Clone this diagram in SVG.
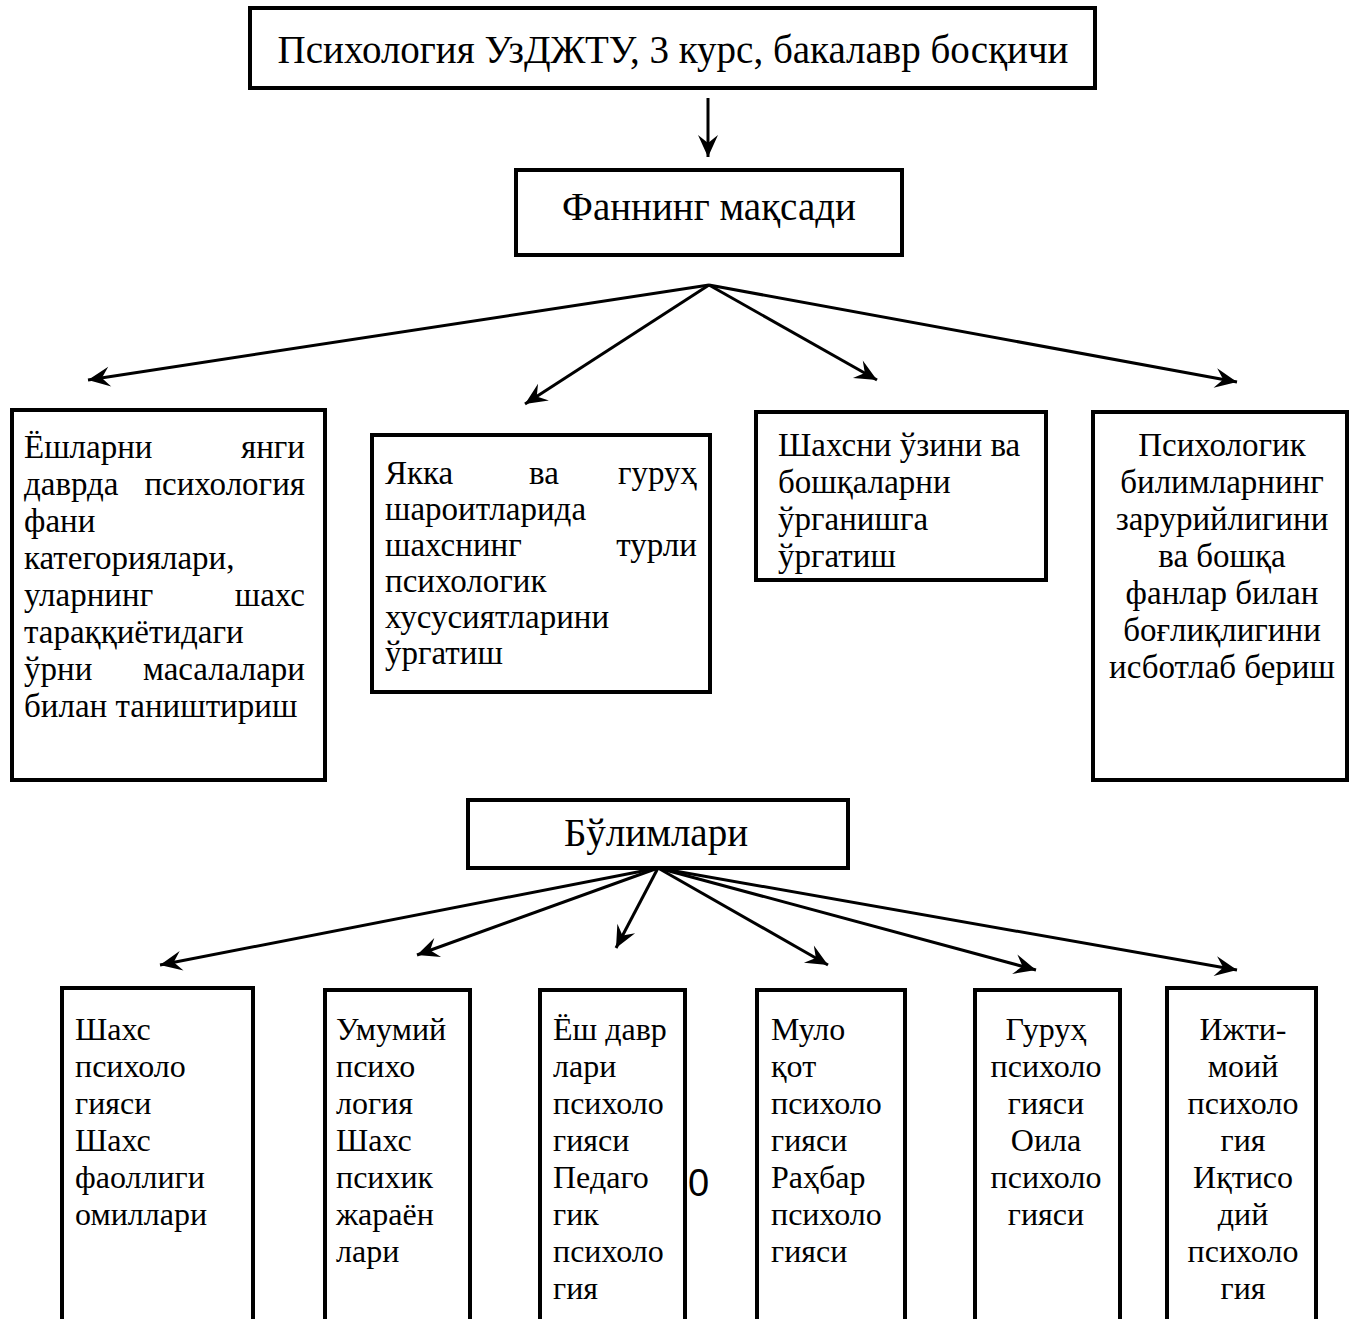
<svg xmlns="http://www.w3.org/2000/svg" width="1349" height="1319" viewBox="0 0 1349 1319">
<style>
.box{fill:#fff;stroke:#000;stroke-width:4}
.t{font-family:"Liberation Serif","Times New Roman",serif;font-size:33px;fill:#000}
.s{font-size:32px}
.tb{font-family:"Liberation Serif","Times New Roman",serif;font-size:39px;fill:#000}
.c{text-anchor:middle}
.e{text-anchor:end}
.ln{stroke:#000;stroke-width:3;fill:none;marker-end:url(#ah)}
</style>
<defs>
<marker id="ah" markerUnits="userSpaceOnUse" viewBox="-24 -11 26 22" refX="0" refY="0" markerWidth="26" markerHeight="22" orient="auto">
<path d="M0,0 L-22,-10 L-14,0 L-22,10 Z" fill="#000"/>
</marker>
</defs>
<rect width="1349" height="1319" fill="#fff"/>
<g id="connectors">
<line class="ln" x1="708" y1="98" x2="708" y2="157"/>
<line class="ln" x1="709" y1="285" x2="88" y2="380"/>
<line class="ln" x1="709" y1="285" x2="525" y2="404"/>
<line class="ln" x1="709" y1="285" x2="877" y2="380"/>
<line class="ln" x1="709" y1="285" x2="1237" y2="382"/>
<line class="ln" x1="658" y1="868" x2="160" y2="965"/>
<line class="ln" x1="658" y1="868" x2="417" y2="955"/>
<line class="ln" x1="658" y1="868" x2="616" y2="948"/>
<line class="ln" x1="658" y1="868" x2="828" y2="965"/>
<line class="ln" x1="658" y1="868" x2="1036" y2="970"/>
<line class="ln" x1="658" y1="868" x2="1237" y2="970"/>
</g>
<g id="top">
<rect class="box" x="250" y="8" width="845" height="80"/>
<text class="tb c" x="673" y="63">Психология УзДЖТУ, 3 курс, бакалавр босқичи</text>
</g>
<g id="maqsad">
<rect class="box" x="516" y="170" width="386" height="85"/>
<text class="tb c" x="709" y="220">Фаннинг мақсади</text>
</g>
<g id="goal1">
<rect class="box" x="12" y="410" width="313" height="370"/>
<text class="t" x="24" y="458">Ёшларни</text><text class="t e" x="305" y="458">янги</text>
<text class="t" x="24" y="495">даврда</text><text class="t e" x="305" y="495">психология</text>
<text class="t" x="24" y="532">фани</text>
<text class="t" x="24" y="569">категориялари,</text>
<text class="t" x="24" y="606">уларнинг</text><text class="t e" x="305" y="606">шахс</text>
<text class="t" x="24" y="643">тараққиётидаги</text>
<text class="t" x="24" y="680">ўрни</text><text class="t e" x="305" y="680">масалалари</text>
<text class="t" x="24" y="717">билан таништириш</text>
</g>
<g id="goal2">
<rect class="box" x="372" y="435" width="338" height="257"/>
<text class="t" x="385" y="484">Якка</text><text class="t c" x="544" y="484">ва</text><text class="t e" x="697" y="484">гуруҳ</text>
<text class="t" x="385" y="520">шароитларида</text>
<text class="t" x="385" y="556">шахснинг</text><text class="t e" x="697" y="556">турли</text>
<text class="t" x="385" y="592">психологик</text>
<text class="t" x="385" y="628">хусусиятларини</text>
<text class="t" x="385" y="664">ўргатиш</text>
</g>
<g id="goal3">
<rect class="box" x="756" y="412" width="290" height="168"/>
<text class="t" x="778" y="456">Шахсни ўзини ва</text>
<text class="t" x="778" y="493">бошқаларни</text>
<text class="t" x="778" y="530">ўрганишга</text>
<text class="t" x="778" y="567">ўргатиш</text>
</g>
<g id="goal4">
<rect class="box" x="1093" y="412" width="254" height="368"/>
<text class="t c" x="1222" y="456">Психологик</text>
<text class="t c" x="1222" y="493">билимларнинг</text>
<text class="t c" x="1222" y="530">зарурийлигини</text>
<text class="t c" x="1222" y="567">ва бошқа</text>
<text class="t c" x="1222" y="604">фанлар билан</text>
<text class="t c" x="1222" y="641">боғлиқлигини</text>
<text class="t c" x="1222" y="678">исботлаб бериш</text>
</g>
<g id="bulimlari">
<rect class="box" x="468" y="800" width="380" height="68"/>
<text class="tb c" x="656" y="846">Бўлимлари</text>
</g>
<g id="b1">
<rect class="box" x="62" y="988" width="191" height="340"/>
<text class="t s" x="75" y="1040">Шахс</text>
<text class="t s" x="75" y="1077">психоло</text>
<text class="t s" x="75" y="1114">гияси</text>
<text class="t s" x="75" y="1151">Шахс</text>
<text class="t s" x="75" y="1188">фаоллиги</text>
<text class="t s" x="75" y="1225">омиллари</text>
</g>
<g id="b2">
<rect class="box" x="325" y="990" width="145" height="340"/>
<text class="t s" x="336" y="1040">Умумий</text>
<text class="t s" x="336" y="1077">психо</text>
<text class="t s" x="336" y="1114">логия</text>
<text class="t s" x="336" y="1151">Шахс</text>
<text class="t s" x="336" y="1188">психик</text>
<text class="t s" x="336" y="1225">жараён</text>
<text class="t s" x="336" y="1262">лари</text>
</g>
<g id="b3">
<rect class="box" x="540" y="990" width="145" height="340"/>
<text class="t s" x="553" y="1040">Ёш давр</text>
<text class="t s" x="553" y="1077">лари</text>
<text class="t s" x="553" y="1114">психоло</text>
<text class="t s" x="553" y="1151">гияси</text>
<text class="t s" x="553" y="1188">Педаго</text>
<text class="t s" x="553" y="1225">гик</text>
<text class="t s" x="553" y="1262">психоло</text>
<text class="t s" x="553" y="1299">гия</text>
</g>
<text x="688" y="1196" style="font-family:'Liberation Sans',Arial,sans-serif;font-size:38px;fill:#000">0</text>
<g id="b4">
<rect class="box" x="757" y="990" width="148" height="340"/>
<text class="t s" x="771" y="1040">Муло</text>
<text class="t s" x="771" y="1077">қот</text>
<text class="t s" x="771" y="1114">психоло</text>
<text class="t s" x="771" y="1151">гияси</text>
<text class="t s" x="771" y="1188">Раҳбар</text>
<text class="t s" x="771" y="1225">психоло</text>
<text class="t s" x="771" y="1262">гияси</text>
</g>
<g id="b5">
<rect class="box" x="975" y="990" width="145" height="340"/>
<text class="t s c" x="1046" y="1040">Гуруҳ</text>
<text class="t s c" x="1046" y="1077">психоло</text>
<text class="t s c" x="1046" y="1114">гияси</text>
<text class="t s c" x="1046" y="1151">Оила</text>
<text class="t s c" x="1046" y="1188">психоло</text>
<text class="t s c" x="1046" y="1225">гияси</text>
</g>
<g id="b6">
<rect class="box" x="1167" y="988" width="149" height="340"/>
<text class="t s c" x="1243" y="1040">Ижти-</text>
<text class="t s c" x="1243" y="1077">моий</text>
<text class="t s c" x="1243" y="1114">психоло</text>
<text class="t s c" x="1243" y="1151">гия</text>
<text class="t s c" x="1243" y="1188">Иқтисо</text>
<text class="t s c" x="1243" y="1225">дий</text>
<text class="t s c" x="1243" y="1262">психоло</text>
<text class="t s c" x="1243" y="1299">гия</text>
</g>
</svg>
